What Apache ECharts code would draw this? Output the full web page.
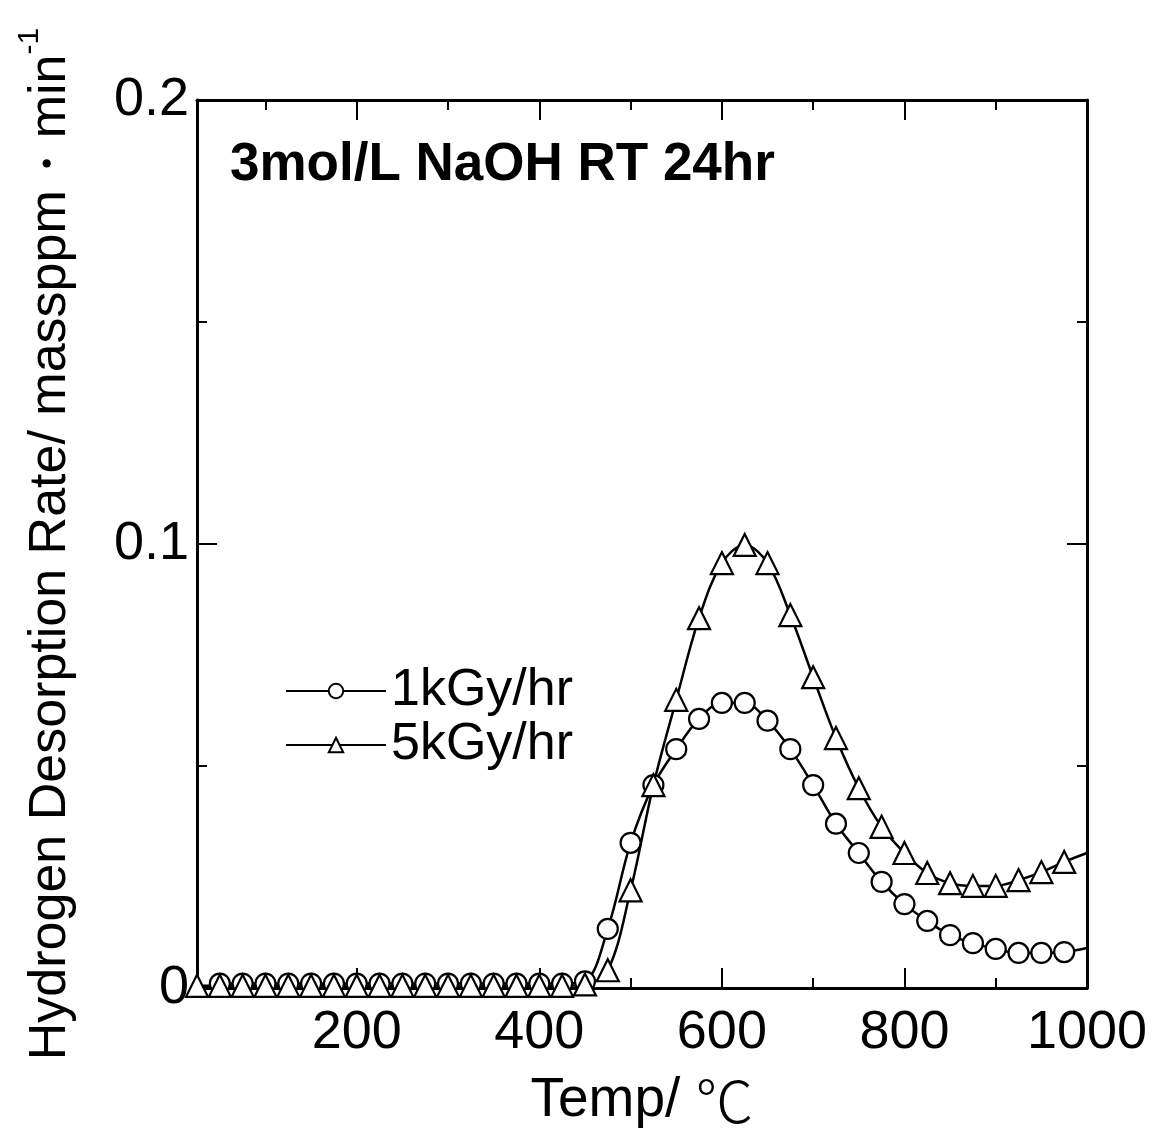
<!DOCTYPE html>
<html>
<head>
<meta charset="utf-8">
<script src="https://cdn.jsdelivr.net/npm/echarts@6/dist/echarts.min.js"></script>
<style>
  html, body { margin: 0; padding: 0; background: #fff; }
  #chart { width: 1156px; height: 1131px; }
</style>
</head>
<body>
<div id="chart"></div>
<script>
// Temperature steps (deg C) and desorption rates (massppm/min)
const temps1k = [50, 75, 100, 125, 150, 175, 200, 225, 250, 275, 300, 325, 350, 375, 400, 425,
  450, 475, 500, 525, 550, 575, 600, 625, 650, 675, 700, 725, 750, 775, 800, 825, 850, 875, 900, 925, 950, 975, 1000];
const rate1k = [0.001, 0.001, 0.001, 0.001, 0.001, 0.001, 0.001, 0.001, 0.001, 0.001, 0.001, 0.001, 0.001, 0.001, 0.001, 0.001,
  0.0015, 0.0133, 0.0327, 0.0457, 0.0538, 0.0606, 0.0642, 0.0642, 0.0602, 0.0538, 0.0457, 0.0370, 0.0304, 0.0239, 0.0189,
  0.0151, 0.0119, 0.0101, 0.0088, 0.0079, 0.0079, 0.0081, 0.0090];

const temps5k = [25, 50, 75, 100, 125, 150, 175, 200, 225, 250, 275, 300, 325, 350, 375, 400, 425,
  450, 475, 500, 525, 550, 575, 600, 625, 650, 675, 700, 725, 750, 775, 800, 825, 850, 875, 900, 925, 950, 975, 1000];
const rate5k = [0.0005, 0.0005, 0.0005, 0.0005, 0.0005, 0.0005, 0.0005, 0.0005, 0.0005, 0.0005, 0.0005, 0.0005, 0.0005, 0.0005, 0.0005, 0.0005, 0.0005,
  0.0008, 0.004, 0.022, 0.0457, 0.0649, 0.0833, 0.0957, 0.0998, 0.0957, 0.084, 0.070, 0.0563, 0.045, 0.0363, 0.0304,
  0.0259, 0.0236, 0.0230, 0.0230, 0.0243, 0.0261, 0.0284, 0.0304];

const seriesNames = ['1kGy/hr', '5kGy/hr'];
const xMajorTicks = [200, 400, 600, 800, 1000];
const xMinorTicks = [100, 300, 500, 700, 900];
const chartTitle = '3mol/L NaOH RT 24hr';
const xNameMain = 'Temp/ ';
const xNameUnit = '\u2103';
const yNameMain = 'Hydrogen Desorption Rate/ massppm\u30FBmin';
const yNameSup = '-1';

const FONT = '"Liberation Sans", Arial, sans-serif';

// the last sample (1000 deg C) only continues the curve to the frame edge
function toData(xs, ys) {
  return xs.map((x, i) => {
    const item = { value: [x, ys[i]] };
    if (x === 1000) item.symbol = 'none';
    return item;
  });
}

function xAxisDef(position, ticks, len, withLabels, withLine) {
  return {
    type: 'value', position: position, min: 25, max: 1000,
    axisLine: { show: withLine, lineStyle: { color: '#000', width: 3 } },
    axisTick: { show: true, inside: true, length: len, customValues: ticks, lineStyle: { color: '#000', width: 2 } },
    axisLabel: withLabels ? {
      show: true, customValues: xMajorTicks, margin: 18,
      color: '#000', fontSize: 54, fontFamily: FONT,
      formatter: v => String(v)
    } : { show: false },
    splitLine: { show: false }
  };
}

const chart = echarts.init(document.getElementById('chart'));
const lineSeries = (name, xs, ys, symbol) => ({
  name: name, type: 'line', data: toData(xs, ys),
  smooth: 0.35,
  symbol: symbol, symbolSize: symbol === 'circle' ? 20 : 22,
  showAllSymbol: true,
  lineStyle: { color: '#000', width: 2.5 },
  itemStyle: { color: '#fff', borderColor: '#000', borderWidth: 2.2 },
  z: 3
});

chart.setOption({
  animation: false,
  backgroundColor: '#fff',
  grid: { left: 197, right: 69, top: 100, bottom: 143, containLabel: false, outerBoundsMode: 'none' },
  legend: {
    orient: 'vertical', left: 280, top: 660, itemGap: 2,
    itemWidth: 100, itemHeight: 18,
    textStyle: { color: '#000', fontSize: 52, fontFamily: FONT, lineHeight: 52 },
    data: seriesNames
  },
  graphic: [{
    type: 'text', x: 230, y: 165, z: 10,
    style: {
      text: chartTitle, fill: '#000', fontSize: 53, fontWeight: 'bold',
      fontFamily: FONT, verticalAlign: 'middle'
    }
  }],
  xAxis: [
    Object.assign(xAxisDef('bottom', xMajorTicks.slice(0, 4), 20, true, true), {
      name: '{a|' + xNameMain + '}{u|' + xNameUnit + '}',
      nameLocation: 'middle', nameGap: 84,
      nameTextStyle: {
        rich: {
          a: { color: '#000', fontSize: 55, fontFamily: FONT },
          u: { color: '#000', fontSize: 58, fontFamily: '"Noto Sans CJK JP"', fontWeight: 300 }
        }
      }
    }),
    xAxisDef('bottom', xMinorTicks, 10, false, false),
    xAxisDef('top', xMajorTicks.slice(0, 4), 20, false, true),
    xAxisDef('top', xMinorTicks, 10, false, false)
  ],
  yAxis: [{
    type: 'value', min: 0, max: 0.2, interval: 0.1, position: 'left',
    name: '{a|' + yNameMain + '}{s|' + yNameSup + '}',
    nameLocation: 'middle', nameGap: 110,
    nameTextStyle: {
      rich: {
        a: { color: '#000', fontSize: 52, fontFamily: FONT, lineHeight: 72 },
        s: { color: '#000', fontSize: 30, fontFamily: FONT, lineHeight: 30, verticalAlign: 'top' }
      }
    },
    axisLine: { show: true, lineStyle: { color: '#000', width: 3 } },
    axisTick: { show: true, inside: true, length: 20, lineStyle: { color: '#000', width: 2 } },
    minorTick: { show: true, splitNumber: 2, length: 10, lineStyle: { color: '#000', width: 2 } },
    axisLabel: {
      color: '#000', fontSize: 54, fontFamily: FONT, margin: 8,
      formatter: v => (v === 0 ? '0' : String(Math.round(v * 10) / 10))
    },
    splitLine: { show: false }, minorSplitLine: { show: false }
  }, {
    type: 'value', min: 0, max: 0.2, interval: 0.1, position: 'right',
    axisLine: { show: true, lineStyle: { color: '#000', width: 3 } },
    axisTick: { show: true, inside: true, length: 20, lineStyle: { color: '#000', width: 2 } },
    minorTick: { show: true, splitNumber: 2, length: 10, lineStyle: { color: '#000', width: 2 } },
    axisLabel: { show: false },
    splitLine: { show: false }, minorSplitLine: { show: false }
  }],
  series: [
    lineSeries(seriesNames[0], temps1k, rate1k, 'circle'),
    lineSeries(seriesNames[1], temps5k, rate5k, 'triangle')
  ]
});
</script>
</body>
</html>
